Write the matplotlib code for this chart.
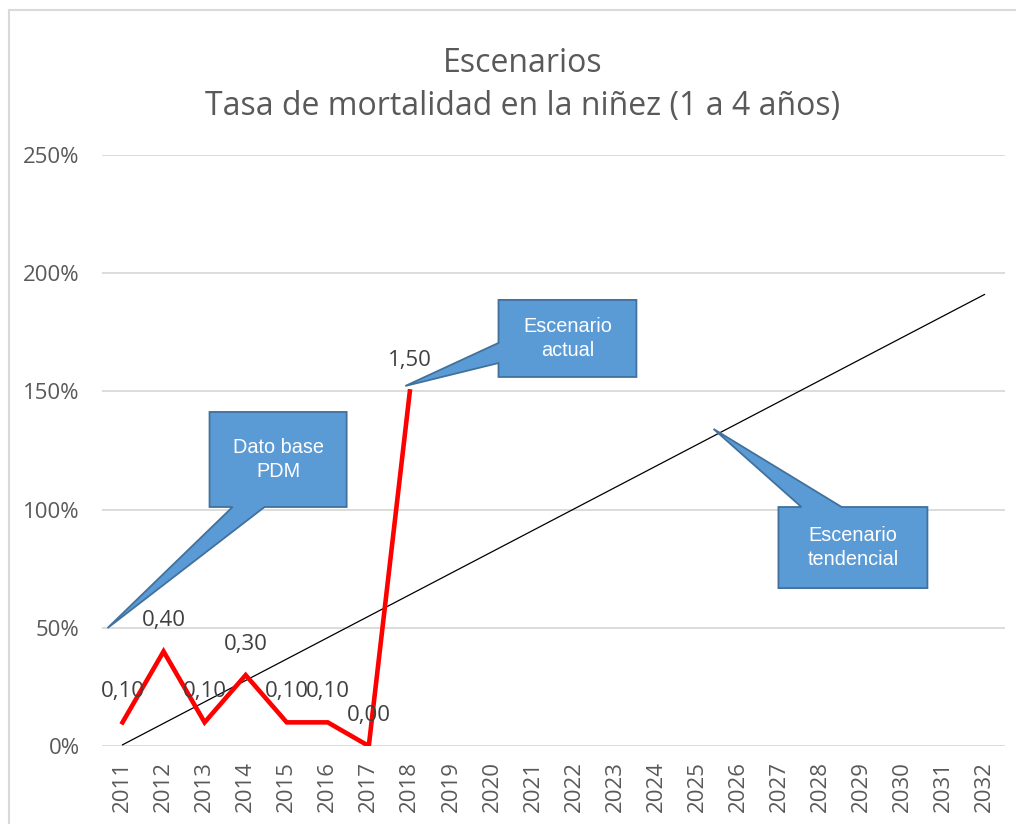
import matplotlib
matplotlib.use("Agg")
import matplotlib.pyplot as plt
from matplotlib.patches import Polygon, Rectangle
from matplotlib.ticker import FuncFormatter

years = [str(y) for y in range(2011, 2033)]
actual_values = [0.10, 0.40, 0.10, 0.30, 0.10, 0.10, 0.00, 1.50]
actual_labels = ["0,10", "0,40", "0,10", "0,30", "0,10", "0,10", "0,00", "1,50"]
trend_years = ["2011", "2032"]
trend_values = [0.005, 1.91]
title_lines = ["Escenarios", "Tasa de mortalidad en la niñez (1 a 4 años)"]
callout_texts = ["Dato base\nPDM", "Escenario\nactual", "Escenario\ntendencial"]

W, H = 1016, 824
fig = plt.figure(figsize=(W / 100, H / 100), dpi=100)
fig.patches.append(Rectangle((9 / W, -0.1), 1.2, 1 - 10 / H + 0.1, transform=fig.transFigure,
                             facecolor="none", edgecolor="#D9D9D9", linewidth=1.5))

ax = fig.add_axes([102 / W, 1 - 746 / H, (1005 - 102) / W, (746 - 155) / H])
xpos = list(range(len(years)))
ax.set_xlim(-0.5, len(years) - 0.5)
ax.set_ylim(0, 2.5)
ax.set_yticks([0, 0.5, 1.0, 1.5, 2.0, 2.5])
ax.yaxis.set_major_formatter(FuncFormatter(lambda v, p: f"{v*100:.0f}%"))
ax.set_xticks(xpos)
ax.set_xticklabels(years, rotation=90)
for s in ax.spines.values():
    s.set_visible(False)
ax.grid(axis="y", color="#D9D9D9", linewidth=1.3)
ax.set_axisbelow(True)
ax.tick_params(axis="both", length=0, colors="#595959", labelsize=16)
ax.tick_params(axis="y", pad=16)
ax.tick_params(axis="x", pad=11)
for lbl in ax.get_xticklabels() + ax.get_yticklabels():
    lbl.set_fontfamily("Open Sans")

# trend line
tx = [years.index(y) for y in trend_years]
ax.plot(tx, trend_values, color="black", linewidth=0.9, zorder=3)

# actual series
ax.plot(xpos[:len(actual_values)], actual_values, color="#FF0000", linewidth=3.3,
        solid_joinstyle="miter", zorder=4)
for i, (v, t) in enumerate(zip(actual_values, actual_labels)):
    ax.annotate(t, (i, v), xytext=(0, 31), textcoords="offset pixels",
                ha="center", va="center", fontsize=16, color="#404040", fontfamily="Open Sans",
                zorder=5)

# callouts (box + wedge), in data coordinates
callouts = [
    ([(2.12, 1.413), (5.46, 1.413), (5.46, 1.011), (3.46, 1.011), (-0.365, 0.499),
      (2.68, 1.011), (2.12, 1.011)], (3.79, 1.212)),
    ([(9.16, 1.887), (12.52, 1.887), (12.52, 1.561), (9.16, 1.561), (9.16, 1.620),
      (6.89, 1.523), (9.16, 1.705)], (10.84, 1.724)),
    ([(15.98, 1.011), (16.54, 1.011), (14.40, 1.341), (17.52, 1.011), (19.61, 1.011),
      (19.61, 0.668), (15.98, 0.668)], (17.795, 0.84)),
]
for (pts, c), txt in zip(callouts, callout_texts):
    ax.add_patch(Polygon(pts, closed=True, facecolor="#5B9BD5", edgecolor="#41719C",
                         linewidth=1.3, zorder=6, clip_on=False))
    ax.text(c[0], c[1], txt, ha="center", va="center", color="white", fontsize=14.3,
            fontfamily="Liberation Sans", linespacing=1.3, zorder=7)

fig.text(523 / W, 1 - 63 / H, title_lines[0], ha="center", va="center", fontsize=23,
         color="#595959", fontfamily="Open Sans")
fig.text(523 / W, 1 - 107 / H, title_lines[1], ha="center", va="center", fontsize=23,
         color="#595959", fontfamily="Open Sans")

fig.savefig("out.png", dpi=100)
